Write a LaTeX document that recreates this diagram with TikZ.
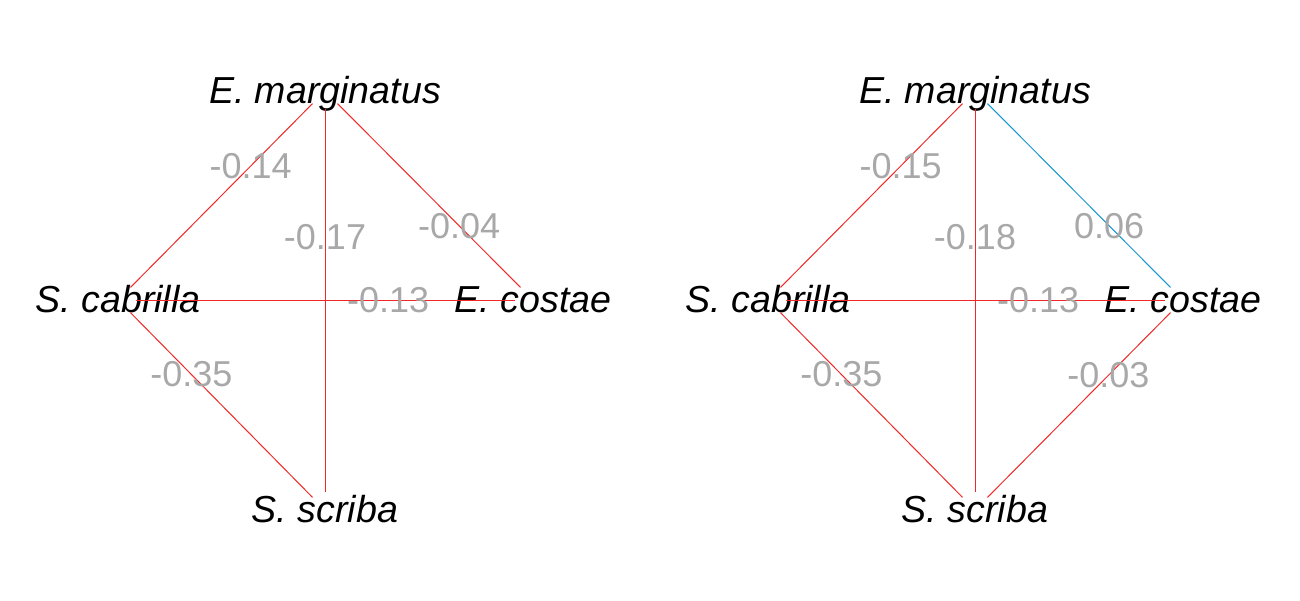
\documentclass[tikz,border=0pt]{standalone}
\usepackage{fontspec}
\setmainfont{Liberation Sans}
\usetikzlibrary{positioning}

\definecolor{negred}{RGB}{240,40,40}
\definecolor{posblue}{RGB}{20,150,210}
\definecolor{wgray}{RGB}{168,168,168}

\begin{document}
\begin{tikzpicture}[x=1pt, y=1pt,
  spot/.style={circle, minimum size=35pt, inner sep=0pt},
  species/.style={anchor=base, inner sep=0pt, font=\fontsize{37.6}{42}\selectfont\itshape},
  weight/.style={inner sep=0pt, text=wgray, font=\fontsize{36}{40}\selectfont},
  negedge/.style={draw=negred, line width=1pt},
  posedge/.style={draw=posblue, line width=1pt},
]
\useasboundingbox (0,0) rectangle (1300,-600);

% left network
\node[spot] (lm) at (325,-91) {};
\node[spot] (lc) at (118,-300) {};
\node[spot] (le) at (533,-300) {};
\node[spot] (ls) at (325,-510) {};
\node[species] (lmt) at ([yshift=-12.5pt]lm.center) {E. marginatus};
\node[species] (lct) at ([yshift=-12.5pt]lc.center) {S. cabrilla};
\node[species] (let) at ([yshift=-12.5pt]le.center) {E. costae};
\node[species] (lst) at ([yshift=-12.5pt]ls.center) {S. scriba};
\path[negedge] (lm) -- node[weight, pos=0.34] (lw1) {-0.14} (lc);
\path[negedge] (lm) -- node[weight, pos=0.335] (lw2) {-0.17} (ls);
\path[negedge] (lm) -- node[weight, pos=0.665] (lw3) {-0.04} (le);
\path[negedge] (lc) -- node[weight, pos=0.665] (lw4) {-0.13} (le);
\path[negedge] (lc) -- node[weight, pos=0.335] (lw5) {-0.35} (ls);

% right network
\node[spot] (rm) at (975,-91) {};
\node[spot] (rc) at (768,-300) {};
\node[spot] (re) at (1183,-300) {};
\node[spot] (rs) at (975,-510) {};
\node[species] (rmt) at ([yshift=-12.5pt]rm.center) {E. marginatus};
\node[species] (rct) at ([yshift=-12.5pt]rc.center) {S. cabrilla};
\node[species] (ret) at ([yshift=-12.5pt]re.center) {E. costae};
\node[species] (rst) at ([yshift=-12.5pt]rs.center) {S. scriba};
\path[negedge] (rm) -- node[weight, pos=0.34] (rw1) {-0.15} (rc);
\path[negedge] (rm) -- node[weight, pos=0.335] (rw2) {-0.18} (rs);
\path[posedge] (rm) -- node[weight, pos=0.665] (rw3) {0.06} (re);
\path[negedge] (rc) -- node[weight, pos=0.665] (rw4) {-0.13} (re);
\path[negedge] (rc) -- node[weight, pos=0.335] (rw5) {-0.35} (rs);
\path[negedge] (re) -- node[weight, pos=0.34] (rw6) {-0.03} (rs);
\end{tikzpicture}
\end{document}
